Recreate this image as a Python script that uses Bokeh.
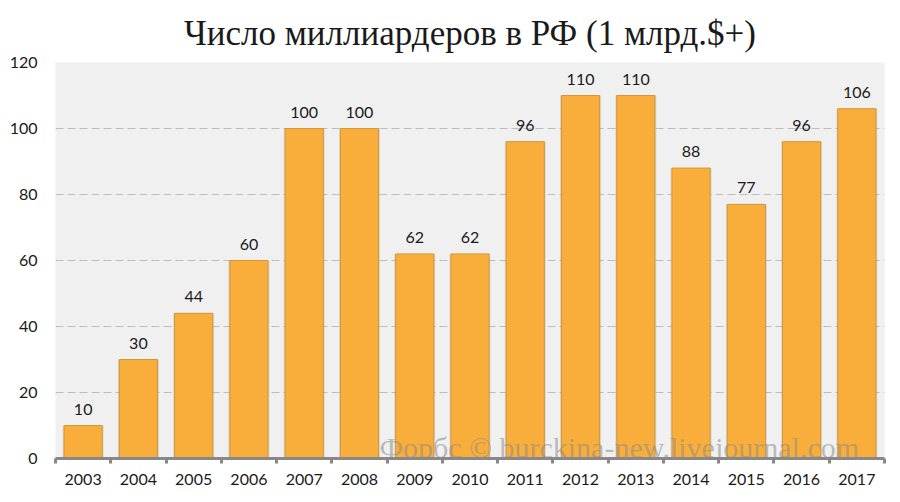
from bokeh.plotting import figure
from bokeh.models import (ColumnDataSource, Range1d, FixedTicker, Label, Title)
from bokeh.core.properties import value
from bokeh.embed import file_html
from bokeh.resources import INLINE

years = [2003, 2004, 2005, 2006, 2007, 2008, 2009, 2010, 2011, 2012, 2013, 2014, 2015, 2016, 2017]
billionaires = [10, 30, 44, 60, 100, 100, 62, 62, 96, 110, 110, 88, 77, 96, 106]
y_ticks = [0, 20, 40, 60, 80, 100, 120]
title_text = "Число миллиардеров в РФ (1 млрд.$+)"
watermark = "Форбс © burckina-new.livejournal.com"

src = ColumnDataSource(dict(x=years, y=billionaires, lab=[str(v) for v in billionaires]))

p = figure(width=900, height=502, output_backend="svg", toolbar_location=None,
           x_range=Range1d(years[0] - 0.5, years[-1] + 0.5), y_range=Range1d(0, 120),
           min_border_left=55, min_border_right=16, min_border_top=62, min_border_bottom=44,
           background_fill_color="#f0f0f0", border_fill_color="white")
p.outline_line_color = None

p.title = Title(text=title_text, align="center", text_font="Liberation Serif",
                text_font_size="35px", text_font_style="normal", text_color="#1a1a1a", standoff=20)

# grid
p.xgrid.grid_line_color = None
p.ygrid.ticker = FixedTicker(ticks=y_ticks)
p.ygrid.grid_line_color = "#bdbdbd"
p.ygrid.grid_line_dash = "8 4"
p.ygrid.grid_line_width = 1

# shadow + bars
p.vbar(x="x", top="y", width=0.74, bottom=0, source=src, fill_color="#8a7a60", fill_alpha=0.22, line_color=None)
p.vbar(x="x", top="y", width=0.69, bottom=0, source=src, fill_color="#f9ae3b", line_color="#d39638", line_width=1)

p.text(x="x", y="y", text="lab", source=src, text_align="center", text_baseline="bottom",
       y_offset=-11, text_font=value("Lato"), text_font_size="16px", text_color="#1a1a1a")

wm = Label(x=2012.7, y=3.3, text=watermark, text_align="center", text_baseline="alphabetic",
           text_font="Liberation Serif", text_font_size="30px", text_color="#8a8a8a", text_alpha=0.55)
p.add_layout(wm)

# axes
xa = p.xaxis[0]
xa.ticker = FixedTicker(ticks=years, minor_ticks=[y - 0.5 for y in years] + [years[-1] + 0.5])
xa.major_tick_line_color = None
xa.minor_tick_line_color = "#888888"
xa.minor_tick_line_width = 3
xa.minor_tick_out = 5
xa.minor_tick_in = 0
xa.axis_line_color = "#888888"
xa.axis_line_width = 3
xa.major_label_standoff = 9
xa.major_label_text_font = "Lato"
xa.major_label_text_font_size = "16px"
xa.major_label_text_color = "#1a1a1a"

ya = p.yaxis[0]
ya.ticker = FixedTicker(ticks=y_ticks)
ya.axis_line_color = None
ya.major_tick_line_color = None
ya.minor_tick_line_color = None
ya.major_label_standoff = 12
ya.major_label_text_font = "Lato"
ya.major_label_text_font_size = "16px"
ya.major_label_text_color = "#1a1a1a"

open("out.html", "w").write(file_html(p, INLINE))
